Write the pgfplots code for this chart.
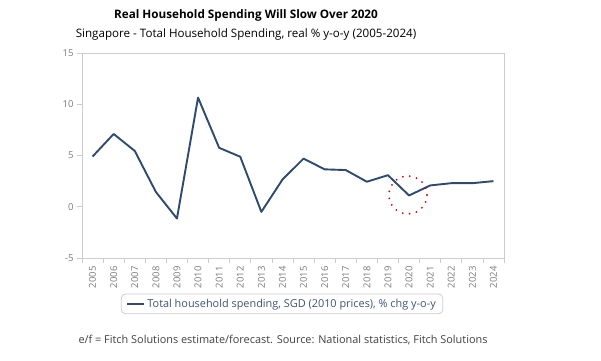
\documentclass[border=0pt]{standalone}
\usepackage{pgfplots}
\pgfplotsset{compat=1.18}
\usepackage{fontspec}
\setmainfont{Open Sans}
\definecolor{navy}{HTML}{2E4A6E}
\definecolor{tickgray}{HTML}{7A7A7A}
\definecolor{framegray}{HTML}{CCCCCC}
\definecolor{legtext}{HTML}{3E5573}
\begin{document}
\begin{tikzpicture}[x=1pt,y=1pt]
\useasboundingbox (0,0) rectangle (601,360);
\begin{axis}[
  at={(82pt,102pt)}, anchor=south west,
  width=422pt, height=205pt, scale only axis,
  xmin=-0.5, xmax=19.5, ymin=-5, ymax=15,
  xtick={0,...,19},
  xticklabels={2005,2006,2007,2008,2009,2010,2011,2012,2013,2014,2015,2016,2017,2018,2019,2020,2021,2022,2023,2024},
  x tick label style={rotate=90, anchor=east, font=\fontsize{9.5}{10}\selectfont, text=tickgray},
  minor xtick={-0.5,0.5,...,19.5},
  major x tick style={draw=none},
  minor tick length=5pt,
  ytick={-5,0,5,10,15},
  y tick label style={font=\fontsize{9.5}{10}\selectfont, text=tickgray},
  major tick length=5pt,
  tick align=outside,
  tick style={framegray, line width=0.8pt},
  axis line style={framegray, line width=0.8pt},
  axis x line*=bottom, axis y line*=left,
  /pgf/number format/assume math mode=true,
  legend style={at={(axis description cs:0.474,-0.224)}, anchor=center,
    draw=framegray, line width=0.8pt, rounded corners=4pt,
    font=\fontsize{10.9}{12}\selectfont, text=legtext,
    inner xsep=5pt, inner ysep=3pt},
  legend image post style={line width=2pt},
  clip=false,
]
\draw[framegray, line width=0.8pt] (rel axis cs:0,1) -- (rel axis cs:1,1) -- (rel axis cs:1,0);
\addplot[navy, line width=1.9pt, line join=round] coordinates {
(0,4.9) (1,7.1) (2,5.45) (3,1.45) (4,-1.15) (5,10.65) (6,5.75) (7,4.88) (8,-0.5) (9,2.65)
(10,4.7) (11,3.65) (12,3.58) (13,2.44) (14,3.08) (15,1.1) (16,2.08) (17,2.3) (18,2.3) (19,2.5)};
\addlegendentry{Total household spending, SGD (2010 prices), \% chg y-o-y}
\addplot[only marks, mark=o, mark size=19pt, forget plot,
  mark options={draw=red!85!black, line width=2pt, line cap=round, dash pattern=on 0pt off 7pt}]
  coordinates {(14.95,1.15)};
\end{axis}
\node[font=\fontsize{11.7}{14}\selectfont\bfseries] at (246,345) {Real Household Spending Will Slow Over 2020};
\node[font=\fontsize{11.6}{14}\selectfont] at (246,326) {Singapore - Total Household Spending, real \% y-o-y (2005-2024)};
\node[font=\fontsize{10.9}{12}\selectfont, text=black!75, anchor=west] at (75,20) {e/f = Fitch Solutions estimate/forecast. Source: National statistics, Fitch Solutions};
\end{tikzpicture}
\end{document}
